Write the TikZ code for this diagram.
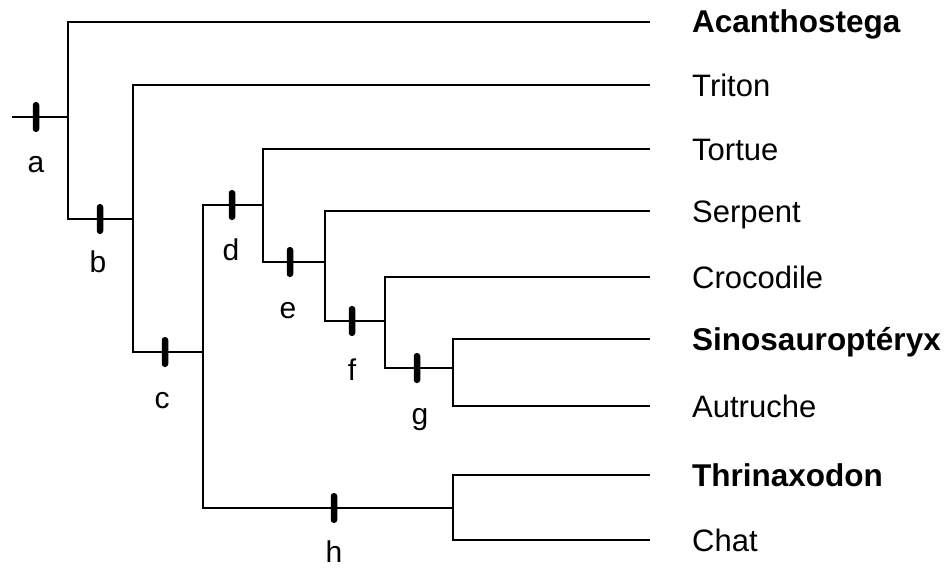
\documentclass[tikz,border=0pt]{standalone}
\usepackage{fontspec}
\setmainfont{Liberation Sans}
\usetikzlibrary{positioning}

\tikzset{
  branch/.style={line width=2pt},
  synapo/.style={fill=black, draw=none, rectangle, rounded corners=3pt, inner sep=0pt, minimum width=6.5pt, minimum height=30pt},
  taxon/.style={anchor=west, inner sep=0pt, text height=22pt, text depth=0pt, font=\fontsize{31}{36}\selectfont},
  fossil/.style={taxon, font=\fontsize{31.5}{36}\selectfont\bfseries},
  letter/.style={anchor=base, inner sep=0pt, font=\fontsize{30}{36}\selectfont}
}

\begin{document}
\begin{tikzpicture}[x=1pt,y=-1pt]
\useasboundingbox[fill=white] (0,0) rectangle (949,567);
% junctions
\coordinate (root) at (12,117);
\coordinate (ja) at (68,117);
\coordinate (jb) at (133,219);
\coordinate (jc) at (203,352);
\coordinate (jd) at (263,205);
\coordinate (je) at (325,262);
\coordinate (jf) at (385,321);
\coordinate (jg) at (453,368);
\coordinate (jh) at (453,508);
% ends of the leaf branches
\coordinate (eAcan) at (650,22);
\coordinate (eTrit) at (650,85);
\coordinate (eTort) at (650,149);
\coordinate (eSerp) at (650,211);
\coordinate (eCroc) at (650,277);
\coordinate (eSino) at (650,339);
\coordinate (eAutr) at (650,406);
\coordinate (eThri) at (650,475);
\coordinate (eChat) at (650,540);

\node[fossil,right=42pt of eAcan] (acan) {Acanthostega};
\node[taxon,right=42pt of eTrit] (trit) {Triton};
\node[taxon,right=42pt of eTort] (tort) {Tortue};
\node[taxon,right=42pt of eSerp] (serp) {Serpent};
\node[taxon,right=42pt of eCroc] (croc) {Crocodile};
\node[fossil,right=42pt of eSino] (sino) {Sinosauroptéryx};
\node[taxon,right=42pt of eAutr] (autr) {Autruche};
\node[fossil,right=42pt of eThri] (thri) {Thrinaxodon};
\node[taxon,right=42pt of eChat] (chat) {Chat};

% tree
\draw[branch] (root) -- (ja);
\draw[branch] (eAcan) -| (ja) |- (jb);
\draw[branch] (eTrit) -| (jb) |- (jc);
\draw[branch] (jd) -| (jc) |- (jh);
\draw[branch] (eTort) -| (jd) |- (je);
\draw[branch] (eSerp) -| (je) |- (jf);
\draw[branch] (eCroc) -| (jf) |- (jg);
\draw[branch] (eSino) -| (jg) |- (eAutr);
\draw[branch] (eThri) -| (jh) |- (eChat);

% synapomorphies
\node[synapo] (sa) at (36,117) {};
\node[synapo] (sb) at (100,219) {};
\node[synapo] (sc) at (165,352) {};
\node[synapo] (sd) at (232,205) {};
\node[synapo] (se) at (290,262) {};
\node[synapo] (sf) at (352,321) {};
\node[synapo] (sg) at (417,368) {};
\node[synapo] (sh) at (334,508) {};

\node[letter] (la) at (36,172) {a};
\node[letter] (lb) at (98,272) {b};
\node[letter] (lc) at (162,408) {c};
\node[letter] (ld) at (231,260) {d};
\node[letter] (le) at (288,318) {e};
\node[letter] (lf) at (352,380) {f};
\node[letter] (lg) at (420,424) {g};
\node[letter] (lh) at (334,562) {h};
\end{tikzpicture}
\end{document}
